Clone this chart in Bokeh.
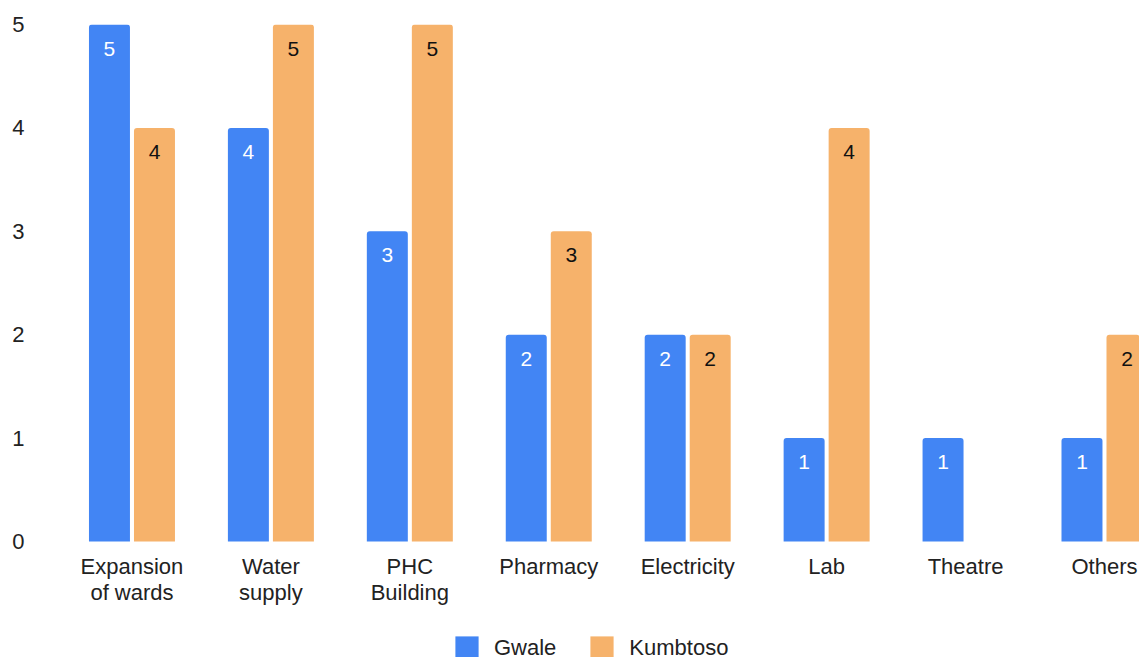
from bokeh.plotting import figure
from bokeh.models import ColumnDataSource, Range1d, FixedTicker, Legend, LegendItem
from bokeh.embed import file_html
from bokeh.resources import INLINE

categories = ["Expansion\nof wards", "Water\nsupply", "PHC\nBuilding", "Pharmacy",
              "Electricity", "Lab", "Theatre", "Others"]
gwale = [5, 4, 3, 2, 2, 1, 1, 1]
kumbtoso = [4, 5, 5, 3, 2, 4, 0, 2]
y_ticks = [0, 1, 2, 3, 4, 5]

BLUE = "#4285F4"
ORANGE = "#F6B26B"
FONT = "Liberation Sans"
TEXT = "#222222"

idx = list(range(len(categories)))
bar_w = 0.295
off = 0.162

src_g = ColumnDataSource(dict(x=[i - off for i in idx], top=gwale,
                              lbl=[str(v) for v in gwale]))
src_k = ColumnDataSource(dict(x=[i + off for i in idx], top=kumbtoso,
                              lbl=[str(v) if v else "" for v in kumbtoso]))
src_c = ColumnDataSource(dict(x=idx, y=[0] * len(idx), name=categories))

# the plotting area runs down to the page bottom so the legend can sit under
# the category names; the value axis starts below zero only to make room
p = figure(frame_width=1077, frame_height=633, output_backend="svg",
           toolbar_location=None,
           x_range=Range1d(-0.5, 7.252), y_range=Range1d(-1.122, 5),
           min_border_left=62, min_border_right=0, min_border_top=24,
           min_border_bottom=0)
p.outline_line_color = None
p.grid.visible = False
p.background_fill_color = "white"
p.xaxis.visible = False

rg = p.vbar(x="x", top="top", bottom=0, width=bar_w, source=src_g,
            fill_color=BLUE, line_color=None, border_radius=(3, 3, 0, 0))
rk = p.vbar(x="x", top="top", bottom=0, width=bar_w, source=src_k,
            fill_color=ORANGE, line_color=None, border_radius=(3, 3, 0, 0))

# value labels inside the top of each bar
p.text(x="x", y="top", text="lbl", source=src_g, text_color="white",
       text_align="center", text_baseline="middle", y_offset=24,
       text_font_size="21px", text_font={"value": FONT})
p.text(x="x", y="top", text="lbl", source=src_k, text_color="#111111",
       text_align="center", text_baseline="middle", y_offset=24,
       text_font_size="21px", text_font={"value": FONT})

# category names under the bars
p.text(x="x", y="y", text="name", source=src_c, text_color=TEXT,
       text_align="center", text_baseline="top", y_offset=13,
       text_line_height=1.03,
       text_font_size="22px", text_font={"value": FONT})

ya = p.yaxis[0]
ya.ticker = FixedTicker(ticks=y_ticks)
ya.axis_line_color = None
ya.major_tick_line_color = None
ya.minor_tick_line_color = None
ya.major_label_text_font = FONT
ya.major_label_text_font_size = "22px"
ya.major_label_text_color = TEXT
ya.major_label_standoff = 32

legend = Legend(items=[LegendItem(label="Gwale", renderers=[rg]),
                       LegendItem(label="Kumbtoso", renderers=[rk])],
                orientation="horizontal", location=(390, -5),
                label_text_font=FONT, label_text_font_size="22px",
                label_text_color=TEXT, glyph_width=29, glyph_height=29,
                label_standoff=13, spacing=31, border_line_color=None,
                background_fill_alpha=0, padding=0, margin=0)
p.add_layout(legend, "center")

open("out.html", "w").write(file_html(p, INLINE))
